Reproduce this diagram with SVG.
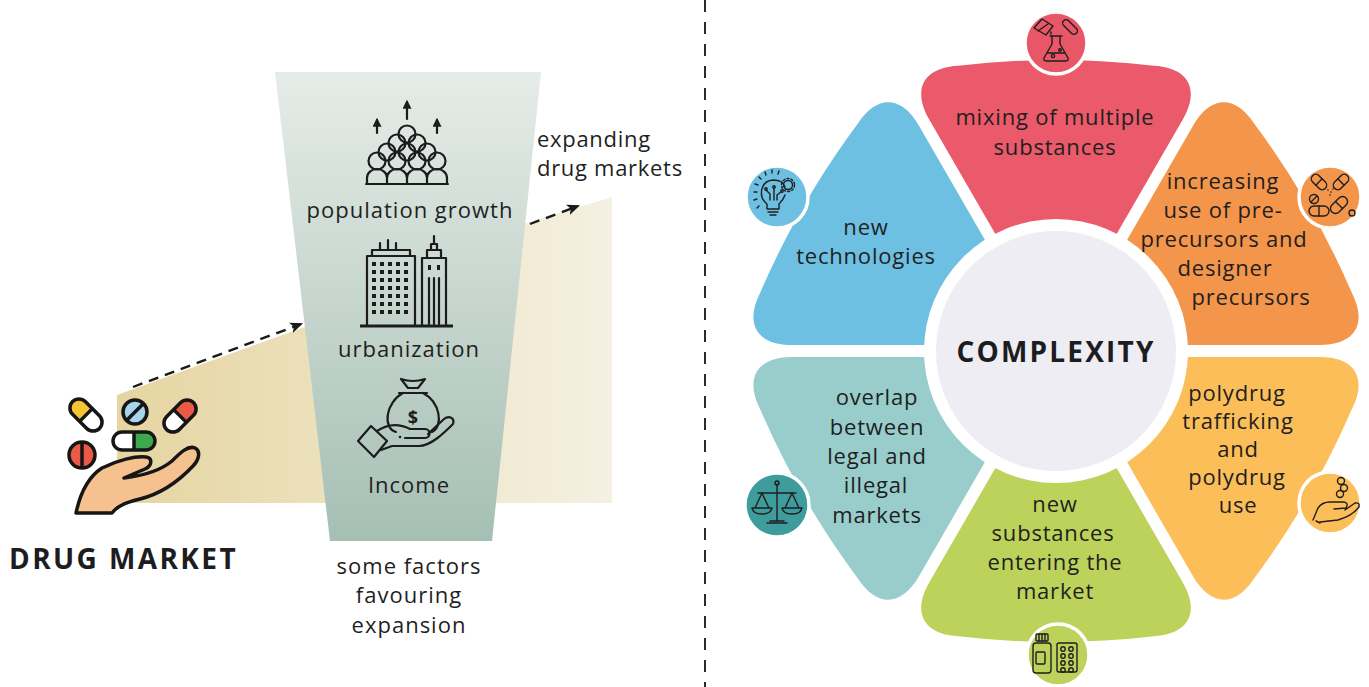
<svg xmlns="http://www.w3.org/2000/svg" xmlns:xlink="http://www.w3.org/1999/xlink" width="1369" height="687" viewBox="0 0 1369 687">
  <style>
    .t { font-family: "Open Sans", "Liberation Sans", sans-serif; font-size: 22px; fill: #1f1f1f; text-anchor: middle; letter-spacing: 0.8px; }
    .lt { font-family: "Open Sans", "Liberation Sans", sans-serif; font-size: 22px; fill: #1f1f1f; text-anchor: middle; letter-spacing: 1px; }
    .big { font-family: "Open Sans", "Liberation Sans", sans-serif; font-weight: 700; font-size: 28px; fill: #1d1d1f; }
    .ic { fill: none; stroke: #1e1e1e; stroke-width: 1.4; stroke-linecap: round; stroke-linejoin: round; }
    .li { fill: none; stroke: #1c1c1c; stroke-width: 2.2; stroke-linecap: round; stroke-linejoin: round; }
    .pill { stroke: #161616; stroke-width: 3.5; stroke-linejoin: round; }
    .dash { fill: none; stroke: #1a1a1a; stroke-width: 2.4; stroke-dasharray: 10 7; }
    .badge { stroke: #ffffff; stroke-width: 3.5; }
  </style>
  <defs>
    <linearGradient id="beige" gradientUnits="userSpaceOnUse" x1="117" y1="0" x2="612" y2="0">
      <stop offset="0" stop-color="#e6d5a1"/>
      <stop offset="1" stop-color="#f5f0e2"/>
    </linearGradient>
    <linearGradient id="funnel" gradientUnits="userSpaceOnUse" x1="0" y1="72" x2="0" y2="541">
      <stop offset="0" stop-color="#e6ece8"/>
      <stop offset="1" stop-color="#a5bfb4"/>
    </linearGradient>
    <marker id="head" viewBox="0 0 12 10" refX="10" refY="5" markerWidth="13" markerHeight="11" markerUnits="userSpaceOnUse" orient="auto">
      <path d="M0,0 L12,5 L0,10 L3,5 Z" fill="#1a1a1a"/>
    </marker>
    <marker id="tip" viewBox="0 0 8 8" refX="6" refY="4" markerWidth="9" markerHeight="9" markerUnits="userSpaceOnUse" orient="auto">
      <path d="M0,0 L8,4 L0,8 Z" fill="#1c1c1c"/>
    </marker>
    <!-- one petal of the ring, pointing up, drawn around the ring centre; soft outer corners -->
    <path id="petal" d="M 44.8 -89.6 L 126.8 -231.6 C 144.2 -261.8 132.6 -283.3 97.9 -285.3 A 843 843 0 0 0 -97.9 -285.3 C -132.6 -283.3 -144.2 -261.8 -126.8 -231.6 L -44.8 -89.6 Z"/>
  </defs>

  <rect width="1369" height="687" fill="#ffffff"/>

  <!-- ============ LEFT PANEL ============ -->
  <polygon points="117,395 310,325 510,228 612,197 612,503 117,503" fill="url(#beige)"/>

  <g id="factors-funnel">
    <polygon points="275,72 541,72 492,541 330,541" fill="url(#funnel)"/>
  </g>

  <g id="population-growth">
    <line class="li" x1="377" y1="133" x2="377" y2="120" marker-end="url(#tip)"/>
    <line class="li" x1="407" y1="119" x2="407" y2="102" marker-end="url(#tip)"/>
    <line class="li" x1="437" y1="133" x2="437" y2="120" marker-end="url(#tip)"/>
    <circle class="li" cx="407" cy="134" r="8.5"/>
    <circle class="li" cx="397" cy="143" r="8.5"/>
    <circle class="li" cx="417" cy="143" r="8.5"/>
    <circle class="li" cx="387" cy="152" r="8.5"/>
    <circle class="li" cx="407" cy="152" r="8.5"/>
    <circle class="li" cx="427" cy="152" r="8.5"/>
    <circle class="li" cx="377" cy="161" r="8.5"/>
    <circle class="li" cx="397" cy="161" r="8.5"/>
    <circle class="li" cx="417" cy="161" r="8.5"/>
    <circle class="li" cx="437" cy="161" r="8.5"/>
    <path class="li" d="M367 184 V178 A10 9 0 0 1 387 178 V184 M387 178 A10 9 0 0 1 407 178 V184 M407 178 A10 9 0 0 1 427 178 V184 M427 178 A10 9 0 0 1 447 178 V184 M366 184 H448"/>
    <text class="lt" x="410" y="218">population growth</text>
  </g>

  <g id="urbanization">
    <line x1="360" y1="326" x2="453" y2="326" stroke="#1c1c1c" stroke-width="3"/>
    <rect class="li" x="367" y="256" width="48" height="70"/>
    <rect class="li" x="372" y="250" width="38" height="6"/>
    <path class="li" d="M380 250 V243 M388 250 V240 M396 250 V243"/>
    <g fill="#1c1c1c">
      <rect x="372" y="262" width="4" height="4"/><rect x="380" y="262" width="4" height="4"/><rect x="388" y="262" width="4" height="4"/><rect x="396" y="262" width="4" height="4"/><rect x="404" y="262" width="4" height="4"/>
      <rect x="372" y="270" width="4" height="4"/><rect x="380" y="270" width="4" height="4"/><rect x="388" y="270" width="4" height="4"/><rect x="396" y="270" width="4" height="4"/><rect x="404" y="270" width="4" height="4"/>
      <rect x="372" y="278" width="4" height="4"/><rect x="380" y="278" width="4" height="4"/><rect x="388" y="278" width="4" height="4"/><rect x="396" y="278" width="4" height="4"/><rect x="404" y="278" width="4" height="4"/>
      <rect x="372" y="286" width="4" height="4"/><rect x="380" y="286" width="4" height="4"/><rect x="388" y="286" width="4" height="4"/><rect x="396" y="286" width="4" height="4"/><rect x="404" y="286" width="4" height="4"/>
      <rect x="372" y="294" width="4" height="4"/><rect x="380" y="294" width="4" height="4"/><rect x="388" y="294" width="4" height="4"/><rect x="396" y="294" width="4" height="4"/><rect x="404" y="294" width="4" height="4"/>
      <rect x="372" y="302" width="4" height="4"/><rect x="380" y="302" width="4" height="4"/><rect x="388" y="302" width="4" height="4"/><rect x="396" y="302" width="4" height="4"/><rect x="404" y="302" width="4" height="4"/>
      <rect x="372" y="310" width="4" height="4"/><rect x="380" y="310" width="4" height="4"/><rect x="388" y="310" width="4" height="4"/><rect x="396" y="310" width="4" height="4"/><rect x="404" y="310" width="4" height="4"/>
      <rect x="428" y="265" width="3" height="5"/><rect x="437" y="265" width="3" height="5"/>
    </g>
    <rect class="li" x="422" y="258" width="24" height="68"/>
    <rect class="li" x="427" y="250" width="14" height="8"/>
    <rect class="li" x="431" y="244" width="6" height="6"/>
    <path class="li" d="M434 244 V236 M429 278 V324 M434 278 V324 M439 278 V324"/>
    <text class="lt" x="409" y="357">urbanization</text>
  </g>

  <g id="income">
    <path class="li" d="M401 379 L408 388 H418 L425 379 Q413 383 401 379 Z"/>
    <path class="li" d="M399 393 H427"/>
    <path class="li" d="M403 393 C386 402 382 428 396 432 M423 393 C440 402 444 426 432 432"/>
    <text x="413" y="424" font-family="Open Sans, Liberation Sans, sans-serif" font-size="18" font-weight="700" fill="#1c1c1c" text-anchor="middle">$</text>
    <path class="li" d="M358 441 L371 426 L387 441 L374 457 Z"/>
    <path class="li" d="M377 431 C389 423 400 424 410 429 H425 C431 429 431 438 425 438 H405"/>
    <path class="li" d="M381 450 L392 446 H419 C431 446 445 432 453 424 C455 418 449 415 444 419 L428 434"/>
    <circle cx="400" cy="437" r="1.3" fill="#1c1c1c"/>
    <text class="lt" x="409" y="493">Income</text>
  </g>

  <g id="expansion-label">
    <text class="lt" x="409" y="574">some factors</text>
    <text class="lt" x="409" y="603">favouring</text>
    <text class="lt" x="409" y="633">expansion</text>
  </g>

  <g id="expanding-markets">
    <text class="lt" x="537" y="147" style="text-anchor:start; letter-spacing:0.7px">expanding</text>
    <text class="lt" x="537" y="176" style="text-anchor:start; letter-spacing:0.7px">drug markets</text>
  </g>

  <g id="drug-market">
    <path d="M76 513 C80 494 88 477 102 468 C118 460 135 456 146 457 C153 458 152 466 145 469 L124 478 C141 476 160 471 172 461 C180 453 188 445 195 448 C201 451 199 460 193 466 C178 482 160 494 140 499 C128 502 118 505 112 513 Z" fill="#f5c18f" stroke="#161616" stroke-width="3.5" stroke-linejoin="round"/>
    <g transform="translate(86,415) rotate(45)">
      <rect x="-19" y="-9" width="38" height="18" rx="9" fill="#ffffff"/>
      <path d="M0 -9 H-10 A9 9 0 0 0 -10 9 H0 Z" fill="#f7c531"/>
      <rect class="pill" x="-19" y="-9" width="38" height="18" rx="9" fill="none"/>
      <line class="pill" x1="0" y1="-9" x2="0" y2="9"/>
    </g>
    <g transform="translate(180,416) rotate(-45)">
      <rect x="-19" y="-9" width="38" height="18" rx="9" fill="#ffffff"/>
      <path d="M0 -9 H10 A9 9 0 0 1 10 9 H0 Z" fill="#ea5a47"/>
      <rect class="pill" x="-19" y="-9" width="38" height="18" rx="9" fill="none"/>
      <line class="pill" x1="0" y1="-9" x2="0" y2="9"/>
    </g>
    <g transform="translate(134,441)">
      <rect x="-21" y="-9" width="42" height="18" rx="9" fill="#ffffff"/>
      <path d="M0 -9 H12 A9 9 0 0 1 12 9 H0 Z" fill="#3ea84c"/>
      <rect class="pill" x="-21" y="-9" width="42" height="18" rx="9" fill="none"/>
      <line class="pill" x1="0" y1="-9" x2="0" y2="9"/>
    </g>
    <circle class="pill" cx="135" cy="412" r="12" fill="#a9d5ec"/>
    <line class="pill" x1="127" y1="420" x2="143" y2="404"/>
    <circle class="pill" cx="82" cy="455" r="13" fill="#ea5a47"/>
    <line class="pill" x1="82" y1="442" x2="82" y2="468"/>
    <text class="big" x="9" y="569" letter-spacing="2.4">DRUG MARKET</text>
  </g>

  <g id="connectors">
    <line class="dash" x1="133" y1="387" x2="301" y2="324" marker-end="url(#head)"/>
    <line class="dash" x1="530" y1="224" x2="578" y2="206" marker-end="url(#head)"/>
    <line x1="705" y1="0" x2="705" y2="687" stroke="#2a2a2a" stroke-width="2" stroke-dasharray="12 10"/>
  </g>

  <!-- ============ RIGHT PANEL: ring of petals ============ -->
  <g transform="translate(1056,351)">
    <use id="petal-mixing" xlink:href="#petal" href="#petal" fill="#ea5a6a"/>
    <use id="petal-precursors" xlink:href="#petal" href="#petal" fill="#f3954b" transform="rotate(60)"/>
    <use id="petal-polydrug" xlink:href="#petal" href="#petal" fill="#fbbe59" transform="rotate(120)"/>
    <use id="petal-new-substances" xlink:href="#petal" href="#petal" fill="#bdd25b" transform="rotate(180)"/>
    <use id="petal-overlap" xlink:href="#petal" href="#petal" fill="#98cdcb" transform="rotate(240)"/>
    <use id="petal-technologies" xlink:href="#petal" href="#petal" fill="#6ec0e2" transform="rotate(300)"/>
  </g>

  <g id="complexity">
    <circle cx="1056" cy="351" r="132" fill="#ffffff"/>
    <circle cx="1056" cy="351" r="120" fill="#ededf3"/>
    <text class="big" x="1056" y="362" text-anchor="middle" letter-spacing="2.2">COMPLEXITY</text>
  </g>

  <g id="mixing-substances">
    <text class="t" x="1055" y="125">mixing of multiple</text>
    <text class="t" x="1055" y="155">substances</text>
    <circle class="badge" cx="1056" cy="43" r="31" fill="#e85767"/>
    <path class="ic" d="M1050 36 H1062 M1052 36 V44 L1044 58 Q1043 61 1047 61 H1065 Q1069 61 1068 58 L1060 44 V36 M1047 53 H1065"/>
    <circle class="ic" cx="1053" cy="56" r="1.6"/>
    <circle class="ic" cx="1060" cy="50" r="1.3"/>
    <polygon class="ic" points="1034,28 1042,19 1053,26 1046,35"/>
    <path class="ic" d="M1038 31 L1048 24"/>
    <path class="ic" d="M1051 32 V34"/>
    <rect class="ic" x="-3.5" y="-9" width="7" height="18" rx="3.5" transform="translate(1070,27) rotate(-45)"/>
  </g>

  <g id="new-technologies">
    <text class="t" x="866" y="235">new</text>
    <text class="t" x="866" y="264">technologies</text>
    <circle class="badge" cx="777" cy="197" r="31" fill="#6ec0e2"/>
    <path class="ic" d="M767 204 C758 197 760 181 773 180 C780 180 784 183 785 187 M779 204 C782 201 784 198 785 195 M767 204 V209 H779 V204 M768 212 H778 M770 215 H776"/>
    <circle class="ic" cx="788" cy="185" r="4.5"/>
    <circle class="ic" cx="788" cy="185" r="6.5" stroke-width="2.6" stroke-dasharray="2 2.1"/>
    <path class="ic" d="M770 200 V194 L766 190 M774 200 V188 M777 200 V195 L781 192"/>
    <circle class="ic" cx="766" cy="189" r="1.2"/>
    <circle class="ic" cx="774" cy="187" r="1.2"/>
    <circle class="ic" cx="782" cy="191" r="1.2"/>
    <path class="ic" d="M757 208 L759 206 M754 200 L757 199 M754 192 H757 M755 184 L758 185 M759 177 L761 179 M765 172 L766 175 M772 170 V173 M779 171 L778 174"/>
  </g>

  <g id="precursors">
    <text class="t" x="1223" y="189">increasing</text>
    <text class="t" x="1223" y="218">use of pre-</text>
    <text class="t" x="1224" y="247">precursors and</text>
    <text class="t" x="1225" y="276">designer</text>
    <text class="t" x="1251" y="305">precursors</text>
    <circle class="badge" cx="1330" cy="197" r="31" fill="#f3954b"/>
    <g transform="translate(1319,182) rotate(45)"><rect class="ic" x="-9" y="-4.5" width="18" height="9" rx="4.5"/><line class="ic" x1="0" y1="-4.5" x2="0" y2="4.5"/></g>
    <g transform="translate(1341,182) rotate(-45)"><rect class="ic" x="-9" y="-4.5" width="18" height="9" rx="4.5"/><line class="ic" x1="0" y1="-4.5" x2="0" y2="4.5"/></g>
    <g fill="#1e1e1e"><circle cx="1328" cy="190" r="0.8"/><circle cx="1331" cy="192" r="0.8"/><circle cx="1333" cy="189" r="0.8"/><circle cx="1330" cy="195" r="0.8"/></g>
    <circle class="ic" cx="1314" cy="199" r="4.5"/>
    <line class="ic" x1="1311" y1="202" x2="1317" y2="196"/>
    <g transform="translate(1319,211)"><rect class="ic" x="-10" y="-5" width="20" height="10" rx="5"/><line class="ic" x1="0" y1="-5" x2="0" y2="5"/></g>
    <g transform="translate(1339,205) rotate(-45)"><rect class="ic" x="-10" y="-5" width="20" height="10" rx="5"/><line class="ic" x1="0" y1="-5" x2="0" y2="5"/></g>
    <circle class="ic" cx="1352" cy="213" r="3"/>
  </g>

  <g id="polydrug">
    <text class="t" x="1237" y="401">polydrug</text>
    <text class="t" x="1238" y="429">trafficking</text>
    <text class="t" x="1238" y="457">and</text>
    <text class="t" x="1237" y="485">polydrug</text>
    <text class="t" x="1238" y="513">use</text>
    <circle class="badge" cx="1330" cy="503" r="31" fill="#fbbe59"/>
    <path class="ic" d="M1313 520 L1318 508 Q1322 502 1330 502 H1344 Q1349 503 1346 508 L1334 509 M1320 522 L1338 520 Q1352 516 1359 507 Q1360 502 1355 503 L1345 510"/>
    <path class="ic" d="M1316 521 L1320 523"/>
    <circle class="ic" cx="1341" cy="481" r="3.5"/>
    <circle class="ic" cx="1344" cy="488" r="3.5"/>
    <circle class="ic" cx="1340" cy="494" r="3.5"/>
  </g>

  <g id="new-substances">
    <text class="t" x="1055" y="512">new</text>
    <text class="t" x="1053" y="541">substances</text>
    <text class="t" x="1055" y="570">entering the</text>
    <text class="t" x="1055" y="599">market</text>
    <circle class="badge" cx="1058" cy="655" r="31" fill="#bdd25b"/>
    <rect class="ic" x="1036" y="634" width="12" height="7" rx="1"/>
    <path class="ic" d="M1039 634 V641 M1042 634 V641 M1045 634 V641"/>
    <rect class="ic" x="1033" y="643" width="18" height="30" rx="3"/>
    <rect class="ic" x="1036" y="652" width="9" height="12" rx="1"/>
    <rect class="ic" x="1057" y="643" width="20" height="29" rx="2"/>
    <g class="ic">
      <circle cx="1063" cy="649" r="2.2"/><circle cx="1071" cy="649" r="2.2"/>
      <circle cx="1063" cy="656" r="2.2"/><circle cx="1071" cy="656" r="2.2"/>
      <circle cx="1063" cy="663" r="2.2"/><circle cx="1071" cy="663" r="2.2"/>
      <circle cx="1063" cy="670" r="2.2"/><circle cx="1071" cy="670" r="2.2"/>
    </g>
  </g>

  <g id="legal-overlap">
    <text class="t" x="877" y="405">overlap</text>
    <text class="t" x="877" y="435">between</text>
    <text class="t" x="877" y="464">legal and</text>
    <text class="t" x="876" y="493">illegal</text>
    <text class="t" x="877" y="523">markets</text>
    <circle class="badge" cx="777" cy="505" r="32" fill="#3e9c9c"/>
    <path class="ic" d="M777 484 V521 M767 523 H787 M770 521 H784 M758 493 H796"/>
    <circle class="ic" cx="777" cy="483" r="2"/>
    <path class="ic" d="M762 493 L755 508 M762 493 L769 508 M752 508 H772 Q771 514 762 514 Q753 514 752 508 Z"/>
    <path class="ic" d="M792 493 L785 508 M792 493 L799 508 M782 508 H802 Q801 514 792 514 Q783 514 782 508 Z"/>
  </g>
</svg>
